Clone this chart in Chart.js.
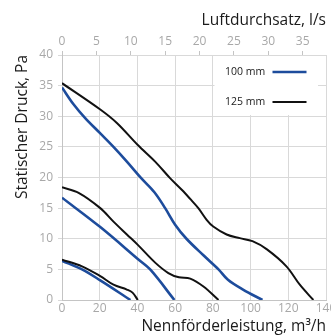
<!DOCTYPE html>
<html>
<head>
<meta charset="utf-8">
<script src="https://cdn.jsdelivr.net/npm/chart.js@4.4.1/dist/chart.umd.min.js"></script>
<style>
  html, body { margin: 0; background: #fff; }
  #wrap { width: 331px; height: 336px; }
</style>
</head>
<body>
<div id="wrap"><canvas id="chart"></canvas></div>
<script>
// fan curves, flow in m³/h against static pressure in Pa (three speeds per size)
const flow100High = [0, 6, 12.3, 20.3, 27.3, 34.4, 42, 49, 54.7, 60, 66, 75, 83, 88, 96, 106.3]
const pa100High = [34.7, 32.0, 29.7, 27.2, 25.0, 22.6, 19.9, 17.6, 15.0, 12.3, 10.0, 7.3, 5.0, 3.3, 1.7, 0]

const flow100Mid = [0, 20.3, 40.2, 47, 59.6]
const pa100Mid = [16.7, 11.9, 6.7, 4.9, 0]

const flow100Low = [0, 10.6, 20.3, 36.3]
const pa100Low = [6.4, 5.0, 3.2, 0]

const flow125High = [0, 20.3, 29.1, 40.2, 49.4, 57.3, 63.5, 68, 72.3, 76.7, 80.2, 87.3, 94.3, 101, 108.5, 119, 126.1, 133.3]
const pa125High = [35.4, 31.1, 28.9, 25.3, 22.6, 19.9, 18.0, 16.5, 15.0, 13.1, 12.0, 10.7, 10.1, 9.6, 8.3, 5.5, 2.5, 0]

const flow125Mid = [0, 8.8, 20.3, 27.3, 34.4, 40.2, 49.4, 56.4, 62, 68, 75, 83]
const pa125Mid = [18.4, 17.5, 15.0, 12.8, 10.7, 9.0, 6.1, 4.4, 3.7, 3.5, 2.2, 0]

const flow125Low = [0, 10.6, 20.3, 27.3, 34.4, 37.4, 40.2]
const pa125Low = [6.6, 5.5, 3.9, 2.5, 1.7, 1.2, 0]

const legendLabels = ['100 mm', '125 mm']

const FLOW_MAX = 140 // m³/h
const LS_MAX = 38.4 // l/s on the top axis
const PA_MAX = 40

const FONT = "'Open Sans', sans-serif"
const BLUE = '#1d4c9c'
const BLACK = '#111111'
const GRID = '#d9d9d9'
const AXIS = '#c4c4c4'
const TICK = '#a8a8a8'
const TITLE = '#1a1a1a'

const toPoints = (xs, ys) => xs.map((x, i) => ({ x, y: ys[i] }))

const curve = (xs, ys, color, width) => ({
  data: toPoints(xs, ys),
  borderColor: color,
  borderWidth: width,
  pointRadius: 0,
  tension: 0.35,
  fill: false,
})

// draws the little key in the top right corner of the plot
const keyBox = {
  id: 'keyBox',
  beforeDatasetsDraw(chart) {
    const { ctx, chartArea: a } = chart
    const left = a.right - 111.5
    const top = a.top + 1
    ctx.save()
    ctx.fillStyle = '#fff'
    ctx.fillRect(left, top, 103.5, 59)

    const rows = [
      { text: legendLabels[0], color: BLUE, width: 2.6, y: top + 16 },
      { text: legendLabels[1], color: BLACK, width: 2, y: top + 46 },
    ]
    ctx.font = '10.5px ' + FONT
    ctx.textBaseline = 'middle'
    ctx.textAlign = 'left'
    for (const r of rows) {
      ctx.fillStyle = TITLE
      ctx.fillText(r.text, left + 10.5, r.y)
      ctx.strokeStyle = r.color
      ctx.lineWidth = r.width
      ctx.beginPath()
      ctx.moveTo(left + 58, r.y)
      ctx.lineTo(left + 92, r.y)
      ctx.stroke()
    }
    ctx.restore()
  },
}

const tickFont = { family: FONT, size: 12 }
const titleFont = { family: FONT, size: 15.5 }

new Chart(document.getElementById('chart'), {
  type: 'line',
  data: {
    datasets: [
      curve(flow125High, pa125High, BLACK, 2),
      curve(flow125Mid, pa125Mid, BLACK, 2),
      curve(flow125Low, pa125Low, BLACK, 2),
      curve(flow100High, pa100High, BLUE, 2.6),
      curve(flow100Mid, pa100Mid, BLUE, 2.6),
      curve(flow100Low, pa100Low, BLUE, 2.6),
    ],
  },
  options: {
    responsive: true,
    maintainAspectRatio: false,
    animation: false,
    layout: { padding: { left: 0, right: 5, top: 0, bottom: 0 } },
    plugins: {
      legend: { display: false },
      tooltip: { enabled: false },
    },
    scales: {
      x: {
        type: 'linear',
        position: 'bottom',
        min: 0,
        max: FLOW_MAX,
        ticks: { stepSize: 20, color: TICK, font: tickFont, padding: 1, maxRotation: 0 },
        grid: { color: GRID, drawTicks: false },
        border: { color: AXIS },
        title: {
          display: true,
          text: 'Nennförderleistung, m³/h',
          align: 'end',
          color: TITLE,
          font: titleFont,
          padding: { top: 0, bottom: 0 },
        },
        afterFit(s) {
          s.height = 36
          s.paddingLeft = 0
          s.paddingRight = 0
        },
      },
      x2: {
        type: 'linear',
        position: 'top',
        min: 0,
        max: LS_MAX,
        ticks: { stepSize: 5, includeBounds: false, color: TICK, font: tickFont, padding: 2, maxRotation: 0 },
        grid: { drawOnChartArea: false, color: AXIS, tickLength: 4 },
        border: { display: false },
        title: {
          display: true,
          text: 'Luftdurchsatz, l/s',
          align: 'end',
          color: TITLE,
          font: titleFont,
          padding: { top: 11, bottom: 0 },
        },
        afterFit(s) {
          s.height = 55
          s.paddingLeft = 0
          s.paddingRight = 0
        },
      },
      y: {
        min: 0,
        max: PA_MAX,
        ticks: { stepSize: 5, color: TICK, font: tickFont, padding: 5 },
        grid: { color: GRID, tickLength: 4 },
        border: { color: AXIS },
        title: {
          display: true,
          text: 'Statischer Druck, Pa',
          align: 'end',
          color: TITLE,
          font: titleFont,
          padding: { top: 13, bottom: 0 },
        },
        afterFit(s) {
          s.width = 62
          s.paddingTop = 0
          s.paddingBottom = 0
        },
      },
    },
  },
  plugins: [keyBox],
})
</script>
</body>
</html>
